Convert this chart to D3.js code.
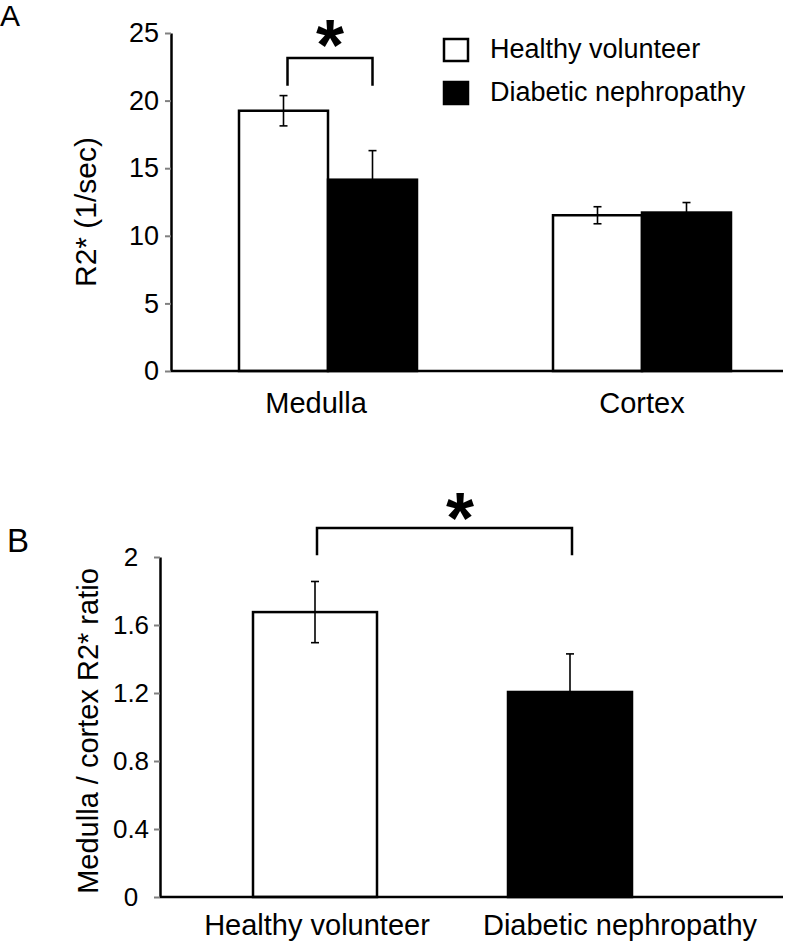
<!DOCTYPE html>
<html lang="en">
<head>
<meta charset="UTF-8">
<title>R2* medulla / cortex</title>
<script src="https://d3js.org/d3.v7.min.js"></script>
<style>
  body { margin: 0; background: #fff; }
  svg text { font-family: "Liberation Sans", Arial, sans-serif; fill: #000; }
  .tick line { stroke: #808080; stroke-width: 2px; }
  .domain { stroke: #000; stroke-width: 2.5px; }
</style>
</head>
<body>
<div id="chart"></div>
<script>
// panel A data
const regions = ["Medulla", "Cortex"];
const seriesNames = ["Healthy volunteer", "Diabetic nephropathy"];
const healthyR2 = [19.25, 11.52];
const healthyR2Err = [1.12, 0.63];
const diabeticR2 = [14.15, 11.72];
const diabeticR2Err = [2.15, 0.74];
const ticksA = [0, 5, 10, 15, 20, 25];

// panel B data
const groupsB = ["Healthy volunteer", "Diabetic nephropathy"];
const ratio = [1.676, 1.206];
const ratioErr = [0.18, 0.224];
const ticksB = [0, 0.4, 0.8, 1.2, 1.6, 2];

// significance brackets: [value of top bar, value of leg ends]
const sigA = [23.15, 21.1];
const sigB = [2.17, 2.01];

const colors = ["#fff", "#000"];

const svg = d3.select("#chart").append("svg")
  .attr("width", 800).attr("height", 943);

function errBar(g, cx, yv, e, y, cap) {
  g.append("line").attr("x1", cx).attr("x2", cx)
    .attr("y1", y(yv + e)).attr("y2", y(yv - e))
    .attr("stroke", "#000").attr("stroke-width", 1.6);
  [yv + e, yv - e].forEach(v => {
    g.append("line").attr("x1", cx - cap).attr("x2", cx + cap)
      .attr("y1", y(v)).attr("y2", y(v))
      .attr("stroke", "#000").attr("stroke-width", 1.6);
  });
}

function bracket(g, x1, x2, top, bottom, y) {
  g.append("path")
    .attr("d", `M${x1},${y(bottom)}V${y(top)}H${x2}V${y(bottom)}`)
    .attr("fill", "none").attr("stroke", "#000").attr("stroke-width", 2.5);
}

// ---------- Panel A ----------
{
  const axisX = 171;
  const y = d3.scaleLinear().domain([0, 25]).range([371, 33]);
  const x = d3.scaleBand().domain(regions).range([171, 799]);
  const sub = d3.scaleBand().domain(seriesNames).range([-89, 89]);
  const g = svg.append("g");

  g.append("text").attr("x", 0).attr("y", 26)
    .style("font-size", "30px").text("A");

  const yAxis = g.append("g").attr("transform", `translate(${axisX},0)`)
    .call(d3.axisLeft(y).tickValues(ticksA).tickSize(6).tickSizeOuter(0).tickPadding(6));
  yAxis.selectAll(".tick text").style("font-size", "27px")
    .attr("font-family", null);

  g.append("text")
    .attr("transform", "translate(96,212) rotate(-90)")
    .attr("text-anchor", "middle")
    .style("font-size", "30px")
    .text("R2* (1/sec)");

  const series = [healthyR2, diabeticR2];
  const errs = [healthyR2Err, diabeticR2Err];
  series.forEach((vals, si) => {
    g.selectAll(null).data(regions).join("rect")
      .attr("x", d => x(d) + x.bandwidth() / 2 + sub(seriesNames[si]))
      .attr("y", (d, i) => y(vals[i]))
      .attr("width", sub.bandwidth())
      .attr("height", (d, i) => y(0) - y(vals[i]))
      .attr("fill", colors[si]).attr("stroke", "#000").attr("stroke-width", 2.5);
  });
  series.forEach((vals, si) => {
    regions.forEach((r, i) => {
      const cx = x(r) + x.bandwidth() / 2 + sub(seriesNames[si]) + sub.bandwidth() / 2;
      errBar(g, cx, vals[i], errs[si][i], y, 4);
    });
  });

  // x axis line
  g.append("line").attr("x1", axisX).attr("x2", 783)
    .attr("y1", y(0)).attr("y2", y(0))
    .attr("stroke", "#000").attr("stroke-width", 2.5);
  const labelShift = [-12, 0];
  g.selectAll(null).data(regions).join("text")
    .attr("x", (d, i) => x(d) + x.bandwidth() / 2 + labelShift[i])
    .attr("y", 413)
    .attr("text-anchor", "middle")
    .style("font-size", "29px")
    .text(d => d);

  // significance
  const c0 = x(regions[0]) + x.bandwidth() / 2;
  const bx1 = c0 + sub(seriesNames[0]) + sub.bandwidth() / 2 + 4;
  const bx2 = c0 + sub(seriesNames[1]) + sub.bandwidth() / 2;
  bracket(g, bx1, bx2, sigA[0], sigA[1], y);
  g.append("text").attr("x", (bx1 + bx2) / 2).attr("y", 70)
    .attr("text-anchor", "middle")
    .style("font-size", "72px").style("font-weight", "bold")
    .text("*");

  // legend
  const leg = g.append("g").attr("transform", "translate(444,39)");
  seriesNames.forEach((s, i) => {
    leg.append("rect").attr("x", 0).attr("y", i * 43)
      .attr("width", 24).attr("height", 22)
      .attr("fill", colors[i]).attr("stroke", "#000").attr("stroke-width", 2.5);
    leg.append("text").attr("x", 46).attr("y", i * 43 + 19)
      .style("font-size", "27px").text(s);
  });
}

// ---------- Panel B ----------
{
  const axisX = 160;
  const y = d3.scaleLinear().domain([0, 2]).range([897, 557]);
  const x = d3.scaleBand().domain(groupsB).range([187.5, 697.5]);
  const barW = 124;
  const g = svg.append("g");

  g.append("text").attr("x", 7).attr("y", 552)
    .style("font-size", "33px").text("B");

  const yAxis = g.append("g").attr("transform", `translate(${axisX},0)`)
    .call(d3.axisLeft(y).tickValues(ticksB).tickSize(6).tickSizeOuter(0)
      .tickFormat(d3.format("")));
  yAxis.selectAll(".tick text").style("font-size", "26px")
    .attr("text-anchor", "middle").attr("x", -29);

  g.append("text")
    .attr("transform", "translate(98,731) rotate(-90)")
    .attr("text-anchor", "middle")
    .style("font-size", "29px")
    .text("Medulla / cortex R2* ratio");

  g.selectAll(null).data(groupsB).join("rect")
    .attr("x", d => x(d) + x.bandwidth() / 2 - barW / 2)
    .attr("y", (d, i) => y(ratio[i]))
    .attr("width", barW)
    .attr("height", (d, i) => y(0) - y(ratio[i]))
    .attr("fill", (d, i) => colors[i]).attr("stroke", "#000").attr("stroke-width", 2.5);
  groupsB.forEach((d, i) => {
    errBar(g, x(d) + x.bandwidth() / 2, ratio[i], ratioErr[i], y, 4);
  });

  g.append("line").attr("x1", axisX).attr("x2", 783)
    .attr("y1", y(0)).attr("y2", y(0))
    .attr("stroke", "#000").attr("stroke-width", 2.5);
  const labelShift = [2, 50];
  g.selectAll(null).data(groupsB).join("text")
    .attr("x", (d, i) => x(d) + x.bandwidth() / 2 + labelShift[i])
    .attr("y", 935)
    .attr("text-anchor", "middle")
    .style("font-size", "29px")
    .text(d => d);

  const bx1 = x(groupsB[0]) + x.bandwidth() / 2 + 2;
  const bx2 = x(groupsB[1]) + x.bandwidth() / 2 + 2;
  bracket(g, bx1, bx2, sigB[0], sigB[1], y);
  g.append("text").attr("x", 460).attr("y", 543)
    .attr("text-anchor", "middle")
    .style("font-size", "72px").style("font-weight", "bold")
    .text("*");
}
</script>
</body>
</html>
